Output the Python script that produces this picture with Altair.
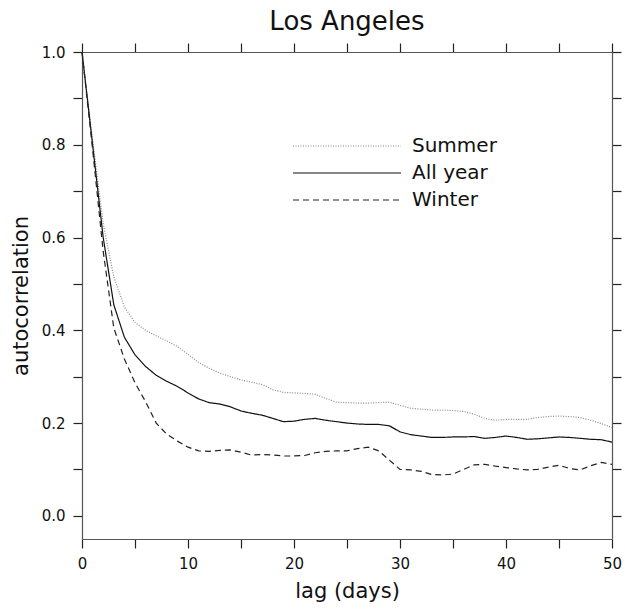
import altair as alt
import pandas as pd

lags = list(range(51))
series_names = ["Summer", "All year", "Winter"]

summer = [1.0, 0.81, 0.63, 0.515, 0.45, 0.417, 0.40, 0.388, 0.377, 0.365,
          0.348, 0.331, 0.318, 0.308, 0.300, 0.293, 0.288, 0.283, 0.272, 0.266,
          0.265, 0.264, 0.262, 0.253, 0.245, 0.244, 0.243, 0.243, 0.244, 0.245,
          0.238, 0.232, 0.230, 0.228, 0.228, 0.227, 0.225, 0.219, 0.210, 0.206,
          0.208, 0.208, 0.208, 0.212, 0.214, 0.215, 0.214, 0.212, 0.206, 0.199,
          0.190]
allyear = [1.0, 0.80, 0.60, 0.455, 0.385, 0.347, 0.322, 0.303, 0.290, 0.279,
           0.265, 0.252, 0.244, 0.241, 0.235, 0.226, 0.221, 0.217, 0.210, 0.203,
           0.204, 0.208, 0.210, 0.206, 0.203, 0.200, 0.198, 0.197, 0.197, 0.194,
           0.181, 0.175, 0.172, 0.169, 0.169, 0.170, 0.170, 0.171, 0.167, 0.169,
           0.172, 0.169, 0.165, 0.166, 0.168, 0.170, 0.169, 0.167, 0.165, 0.164,
           0.159]
winter = [1.0, 0.79, 0.57, 0.405, 0.338, 0.287, 0.246, 0.200, 0.176, 0.161,
          0.148, 0.140, 0.139, 0.141, 0.142, 0.137, 0.131, 0.132, 0.131, 0.129,
          0.129, 0.130, 0.136, 0.139, 0.140, 0.140, 0.145, 0.148, 0.140, 0.120,
          0.100, 0.099, 0.096, 0.089, 0.088, 0.090, 0.100, 0.110, 0.111, 0.107,
          0.104, 0.101, 0.099, 0.100, 0.105, 0.109, 0.102, 0.099, 0.108, 0.115,
          0.111]

x_ticks = list(range(0, 51, 5))
y_ticks = [round(i * 0.1, 1) for i in range(11)]

rows = []
for name, vals in zip(series_names, [summer, allyear, winter]):
    for l, v in zip(lags, vals):
        rows.append({"lag": l, "value": v, "series": name})
df = pd.DataFrame(rows)

font = "DejaVu Sans"
xscale = alt.Scale(domain=[0, 50], nice=False, zero=False)
yscale = alt.Scale(domain=[-0.05, 1.0], nice=False, zero=False)

axis_common = dict(
    domainColor="#555555", domainWidth=1.2,
    tickColor="#222222", tickWidth=1.2, tickSize=9,
    grid=False, labelFont=font, labelColor="#111111", labelFlush=False,
    titleFont=font, titleFontWeight="normal", titleColor="#111111",
)

legend = alt.Legend(
    orient="none", legendX=255, legendY=84, title=None,
    symbolType="M-27,0H27", symbolSize=16, symbolStrokeWidth=1.2,
    labelOffset=55, labelFontSize=20, labelFont=font, labelColor="#111111",
    rowPadding=7, padding=0,
)

lines = alt.Chart(df).mark_line(strokeWidth=1.2).encode(
    x=alt.X("lag:Q", scale=xscale, axis=alt.Axis(
        orient="bottom", values=x_ticks,
        labelExpr="datum.value % 10 == 0 ? datum.label : ''",
        labelFontSize=15, labelPadding=8, title="lag (days)",
        titleFontSize=21, titlePadding=9, **axis_common)),
    y=alt.Y("value:Q", scale=yscale, axis=alt.Axis(
        orient="left", values=y_ticks, format=".1f",
        labelExpr="round(datum.value * 10) % 2 == 0 ? datum.label : ''",
        labelFontSize=15, labelPadding=8, title="autocorrelation",
        titleFontSize=21, titlePadding=10, **axis_common)),
    color=alt.Color("series:N", sort=series_names,
                    scale=alt.Scale(domain=series_names,
                                    range=["#8a8a8a", "#111111", "#222222"]),
                    legend=legend),
    strokeDash=alt.StrokeDash("series:N", sort=series_names,
                              scale=alt.Scale(domain=series_names,
                                              range=[[1, 1.5], [1, 0], [6, 4]]),
                              legend=legend),
)

frame = alt.Chart(df).mark_line(opacity=0).encode(
    x=alt.X("lag:Q", scale=xscale, axis=alt.Axis(
        orient="top", values=x_ticks, labels=False, title="", **axis_common)),
    y=alt.Y("value:Q", scale=yscale, axis=alt.Axis(
        orient="right", values=y_ticks, labels=False, title="", **axis_common)),
    detail="series:N",
)

chart = alt.layer(lines, frame).resolve_axis(
    x="independent", y="independent"
).properties(
    width=530, height=487,
    autosize=alt.AutoSizeParams(type="none"),
    padding={"left": 82, "top": 52, "right": 13, "bottom": 70},
    title=alt.Title("Los Angeles", font=font, fontSize=26,
                    fontWeight="normal", color="#111111", offset=7),
).configure_view(stroke=None).configure(background="white")

chart.save("out.html", embed_options={"renderer": "svg", "actions": False})
